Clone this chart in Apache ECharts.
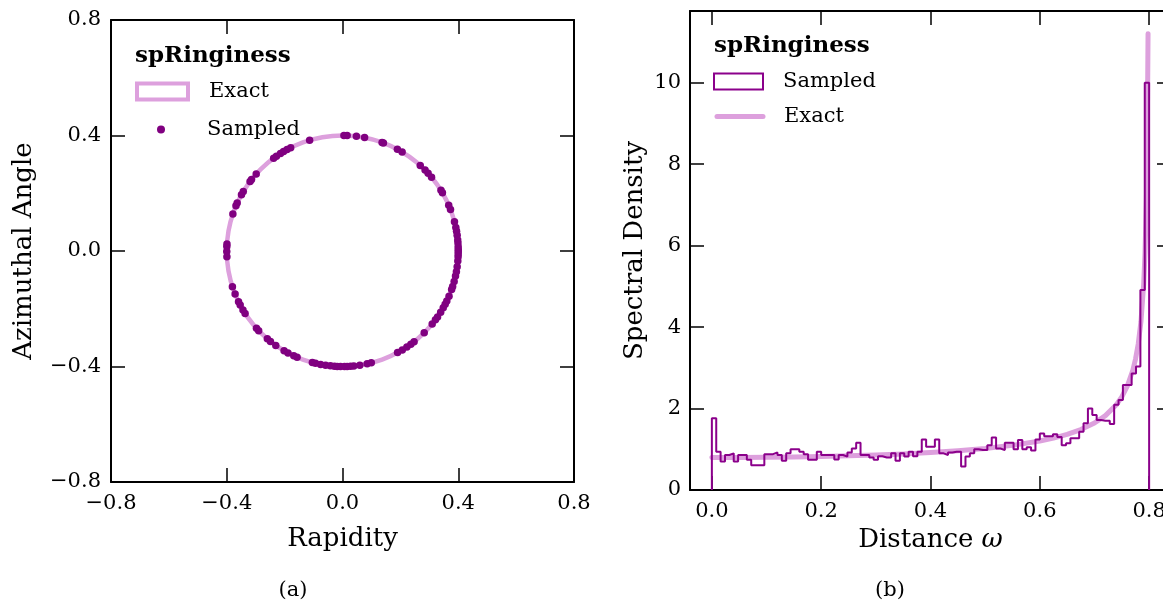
<!DOCTYPE html>
<html><head><meta charset="utf-8">
<script src="https://cdn.jsdelivr.net/npm/echarts@6/dist/echarts.min.js"></script>
<style>html,body{margin:0;padding:0;background:#fff;overflow:hidden}#c{width:1180px;height:603px}</style>
</head><body><div id="c"></div>
<script>
const FONT = 'DejaVu Serif';

// ---- panel (a): ring ----
const ringRadius = 0.4;
const sampledAngleDeg = [89.3, 87.7, 83.1, 79.0, 70.0, 69.3, 61.7, 59.0, 47.8, 44.5, 42.3, 39.7, 31.7, 30.3, 23.4, 21.1, 14.7, 11.8, 9.8, 7.9, 5.5, 4.0, 2.1, 0.8, -0.3, -1.5, -2.8, -5.0, -7.8, -10.3, -12.5, -15.3, -17.9, -19.5, -23.0, -25.7, -27.5, -29.5, -32.0, -34.8, -36.6, -39.2, -45.1, -51.8, -53.8, -56.2, -58.9, -61.6, -75.6, -77.7, -81.4, -84.4, -86.0, -87.7, -89.0, -91.0, -92.6, -94.0, -96.0, -98.4, -100.9, -103.5, -105.1, -113.1, -114.9, -118.1, -120.3, -125.2, -128.5, -130.5, -136.4, -138.0, -147.3, -149.3, -152.1, -153.9, -158.1, -162.0, -177.2, -179.7, 177.8, 176.5, 161.3, 157.0, 155.5, 150.8, 149.0, 143.0, 141.8, 138.2, 126.5, 124.8, 122.4, 120.6, 118.6, 116.6, 106.5];
const circleRapidity = [0.4, 0.3939, 0.3759, 0.3464, 0.3064, 0.2571, 0.2, 0.1368, 0.0695, 0, -0.0695, -0.1368, -0.2, -0.2571, -0.3064, -0.3464, -0.3759, -0.3939, -0.4, -0.3939, -0.3759, -0.3464, -0.3064, -0.2571, -0.2, -0.1368, -0.0695, 0, 0.0695, 0.1368, 0.2, 0.2571, 0.3064, 0.3464, 0.3759, 0.3939, 0.4];
const circleAzimuth = [0, 0.0695, 0.1368, 0.2, 0.2571, 0.3064, 0.3464, 0.3759, 0.3939, 0.4, 0.3939, 0.3759, 0.3464, 0.3064, 0.2571, 0.2, 0.1368, 0.0695, 0, -0.0695, -0.1368, -0.2, -0.2571, -0.3064, -0.3464, -0.3759, -0.3939, -0.4, -0.3939, -0.3759, -0.3464, -0.3064, -0.2571, -0.2, -0.1368, -0.0695, 0];
const ticksA = [-0.8, -0.4, 0, 0.4, 0.8];

// ---- panel (b): spectral density ----
const histBinStart = 0;
const histBinWidth = 0.008;
const histDensity = [1.76, 0.94, 0.70, 0.86, 0.90, 0.70, 0.86, 0.86, 0.74, 0.61,
  0.61, 0.61, 0.88, 0.88, 0.92, 0.86, 0.72, 0.90, 1.00, 1.00,
  0.94, 0.88, 0.74, 0.74, 0.94, 0.86, 0.86, 0.86, 0.75, 0.86,
  0.82, 0.92, 1.02, 1.16, 0.86, 0.86, 0.80, 0.74, 0.83, 0.80,
  0.80, 0.90, 0.72, 0.90, 0.82, 0.94, 0.83, 0.94, 1.24, 1.06,
  1.06, 1.24, 0.90, 0.86, 0.92, 0.94, 0.94, 0.58, 0.82, 0.90,
  1.00, 0.98, 0.98, 1.10, 1.29, 1.02, 0.98, 1.16, 1.16, 1.00,
  1.23, 1.00, 1.05, 0.97, 1.24, 1.39, 1.32, 1.32, 1.37, 1.30,
  1.10, 1.15, 1.27, 1.27, 1.43, 1.64, 2.00, 1.84, 1.72, 1.70,
  1.70, 1.62, 2.09, 2.21, 2.58, 2.58, 2.86, 3.03, 4.91, 10.0];
const exactOmega = [0, 0.05, 0.1, 0.15, 0.2, 0.25, 0.3, 0.35, 0.4, 0.45, 0.5, 0.55, 0.6, 0.625, 0.65, 0.675, 0.7, 0.72, 0.74, 0.75, 0.76, 0.77, 0.775, 0.78, 0.785, 0.79, 0.7925, 0.795, 0.7965, 0.798];
const exactDensity = [0.796, 0.797, 0.802, 0.810, 0.822, 0.838, 0.858, 0.885, 0.919, 0.963, 1.019, 1.096, 1.203, 1.275, 1.365, 1.483, 1.644, 1.826, 2.094, 2.287, 2.549, 2.934, 3.209, 3.581, 4.129, 5.049, 5.826, 7.129, 8.517, 11.2];
const ticksBx = [0, 0.2, 0.4, 0.6, 0.8];
const ticksBy = [0, 2, 4, 6, 8, 10];

// ---- build series data ----
const sampledPoints = sampledAngleDeg.map(a => [ringRadius * Math.cos(a * Math.PI / 180), ringRadius * Math.sin(a * Math.PI / 180)]);
const circleLine = circleRapidity.map((x, i) => [x, circleAzimuth[i]]);
const histLine = [[histBinStart, 0]];
histDensity.forEach((v, i) => { const x0 = histBinStart + i * histBinWidth; histLine.push([x0, v], [x0 + histBinWidth, v]); });
histLine.push([histBinStart + histDensity.length * histBinWidth, 0]);
const exactLine = exactOmega.map((x, i) => [x, exactDensity[i]]);

const PLUM = '#DDA0DD', PURPLE = '#800080', DMAG = '#8B008B';
const fmt1 = v => (Math.abs(v) < 1e-9 ? 0 : v).toFixed(1).replace('-', '\u2212');
const fmt0 = v => String(Math.round(v));

function axis(o) {
  const a = {
    type: 'value', splitLine: { show: false }, gridIndex: o.grid, position: o.position,
    min: o.min, max: o.max,
    axisLine: { show: true, onZero: false, lineStyle: { color: '#000', width: 2 } },
    axisTick: { show: true, inside: true, length: 14, lineStyle: { color: '#000', width: 1.5 } },
    axisLabel: { show: !!o.labels, color: '#000', fontFamily: FONT, fontSize: 21, margin: o.margin || 10, formatter: o.fmt },
    name: o.name || '', nameLocation: 'middle', nameGap: o.nameGap || 0,
    nameTextStyle: { color: '#000', fontFamily: FONT, fontSize: 26, rich: { i: { fontStyle: 'italic', fontFamily: FONT, fontSize: 26, color: '#000' } } }
  };
  if (o.interval != null) a.interval = o.interval;
  if (o.custom) { a.axisTick.customValues = o.custom; a.axisLabel.customValues = o.custom; }
  return a;
}

const legendText = { color: '#000', fontFamily: FONT, fontSize: 21 };
const stripTag = n => n.replace(/ \(.\)$/, '');

const option = {
  animation: false,
  grid: [
    { left: 111, top: 20, width: 463, height: 462 },
    { left: 690, top: 11, width: 481, height: 479 }
  ],
  xAxis: [
    axis({ grid: 0, position: 'bottom', min: -0.8, max: 0.8, interval: 0.4, labels: true, fmt: fmt1, margin: 11, name: 'Rapidity', nameGap: 44 }),
    axis({ grid: 0, position: 'top', min: -0.8, max: 0.8, interval: 0.4 }),
    axis({ grid: 1, position: 'bottom', min: -0.04, max: 0.84, custom: ticksBx, labels: true, fmt: fmt1, margin: 11, name: 'Distance {i|ω}', nameGap: 36 }),
    axis({ grid: 1, position: 'top', min: -0.04, max: 0.84, custom: ticksBx })
  ],
  yAxis: [
    axis({ grid: 0, position: 'left', min: -0.8, max: 0.8, interval: 0.4, labels: true, fmt: fmt1, margin: 10, name: 'Azimuthal Angle', nameGap: 74 }),
    axis({ grid: 0, position: 'right', min: -0.8, max: 0.8, interval: 0.4 }),
    axis({ grid: 1, position: 'left', min: 0, max: 11.76, custom: ticksBy, labels: true, fmt: fmt0, margin: 9, name: 'Spectral Density', nameGap: 42 }),
    axis({ grid: 1, position: 'right', min: 0, max: 11.76, custom: ticksBy })
  ],
  legend: [
    { data: [{ name: 'Exact (a)', icon: 'rect', itemStyle: { color: '#fff', borderColor: PLUM, borderWidth: 4 } }],
      left: 135, top: 81, itemWidth: 51, itemHeight: 16, padding: 0, selectedMode: false, formatter: stripTag,
      textStyle: Object.assign({ padding: [0, 0, 0, 16] }, legendText) },
    { data: [{ name: 'Sampled (a)', icon: 'circle', itemStyle: { color: PURPLE } }],
      left: 157, top: 119, itemWidth: 56, itemHeight: 8, padding: 0, selectedMode: false, formatter: stripTag,
      textStyle: Object.assign({ padding: [0, 0, 0, 13] }, legendText) },
    { data: [{ name: 'Sampled (b)', icon: 'rect', itemStyle: { color: '#fff', borderColor: DMAG, borderWidth: 2 } }],
      left: 713, top: 71, itemWidth: 49, itemHeight: 16, padding: 0, selectedMode: false, formatter: stripTag,
      textStyle: Object.assign({ padding: [0, 0, 0, 15] }, legendText) },
    { data: [{ name: 'Exact (b)', icon: 'line', itemStyle: { color: PLUM, borderColor: PLUM, borderWidth: 5, borderCap: 'round' } }],
      left: 714.5, top: 106, itemWidth: 46, itemHeight: 14, padding: 0, selectedMode: false, formatter: stripTag,
      textStyle: Object.assign({ padding: [0, 0, 0, 16] }, legendText) }
  ],
  graphic: [
    { type: 'text', left: 135, top: 45, style: { text: 'spRinginess', fontFamily: FONT, fontWeight: 'bold', fontSize: 23, fill: '#000' } },
    { type: 'text', left: 714, top: 35, style: { text: 'spRinginess', fontFamily: FONT, fontWeight: 'bold', fontSize: 23, fill: '#000' } },
    { type: 'text', x: 293, y: 591, style: { text: '(a)', fontFamily: FONT, fontSize: 21, fill: '#000', align: 'center', verticalAlign: 'middle' } },
    { type: 'text', x: 890, y: 591, style: { text: '(b)', fontFamily: FONT, fontSize: 21, fill: '#000', align: 'center', verticalAlign: 'middle' } }
  ],
  series: [
    { type: 'line', name: 'Exact (a)', xAxisIndex: 0, yAxisIndex: 0, data: circleLine, symbol: 'none', smooth: 0.3,
      lineStyle: { color: PLUM, width: 4.5 }, itemStyle: { color: PLUM }, z: 2, silent: true },
    { type: 'scatter', name: 'Sampled (a)', xAxisIndex: 0, yAxisIndex: 0, data: sampledPoints, symbolSize: 7.5,
      itemStyle: { color: PURPLE, opacity: 1 }, z: 3, silent: true },
    { type: 'line', name: 'Exact (b)', xAxisIndex: 2, yAxisIndex: 2, data: exactLine, symbol: 'none', showSymbol: false,
      lineStyle: { color: PLUM, width: 5, cap: 'round', join: 'round' }, itemStyle: { color: PLUM }, z: 2, silent: true },
    { type: 'line', name: 'Sampled (b)', xAxisIndex: 2, yAxisIndex: 2, data: histLine, symbol: 'none',
      lineStyle: { color: DMAG, width: 2 }, itemStyle: { color: DMAG }, z: 3, silent: true }
  ]
};
const chart = echarts.init(document.getElementById('c'), null, { renderer: 'canvas' });
chart.setOption(option);
</script></body></html>
